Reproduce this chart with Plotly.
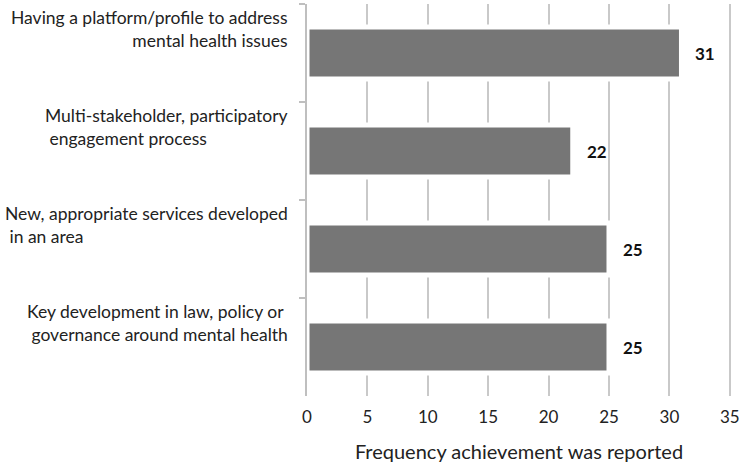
import plotly.graph_objects as go

# ---- data ----
categories = [
    "Having a platform/profile to address mental health issues",
    "Multi-stakeholder, participatory engagement process",
    "New, appropriate services developed in an area",
    "Key development in law, policy or governance around mental health",
]
label_lines = [
    ["Having a platform/profile to address", "mental health issues"],
    ["Multi-stakeholder, participatory", "\u00a0engagement process"],
    ["New, appropriate services developed", "\u00a0in an area"],
    ["Key development in law, policy or", "\u00a0governance around mental health"],
]
label_align = ["right", "left", "left", "left"]
values = [31, 22, 25, 25]
x_ticks = [0, 5, 10, 15, 20, 25, 30, 35]
x_title = "Frequency achievement was reported"

FONT = "Lato"
W, H = 744, 465
L, R, T, B = 307, 8, 4, 69

fig = go.Figure()
fig.add_trace(go.Bar(
    y=categories, x=values, orientation="h",
    width=0.53,
    marker=dict(color="#767676", line=dict(color="white", width=5)),
    hoverinfo="x+y",
))

annotations = []
for cat, lines, al in zip(categories, label_lines, label_align):
    annotations.append(dict(
        x=-17 / (W - L - R), xref="paper", y=cat, yref="y",
        text="<br>".join(lines), showarrow=False,
        xanchor="right", yanchor="middle", align=al, yshift=24,
        font=dict(family=FONT, size=17.5, color="#222222"),
    ))
for cat, v in zip(categories, values):
    annotations.append(dict(
        x=v, xref="x", y=cat, yref="y", text="<b>%d</b>" % v,
        showarrow=False, xanchor="left", yanchor="middle", xshift=12,
        font=dict(family=FONT, size=17, color="#111111"),
    ))

fig.update_layout(
    width=W, height=H,
    margin=dict(l=L, r=R, t=T, b=B, pad=0),
    paper_bgcolor="white", plot_bgcolor="white",
    showlegend=False,
    font=dict(family=FONT, size=17, color="#222222"),
    annotations=annotations,
    xaxis=dict(
        range=[0, 35.1], tickvals=x_ticks, ticktext=[str(t) for t in x_ticks],
        showgrid=True, gridcolor="#c9c9c9", gridwidth=2,
        zeroline=False, showline=False, ticks="",
        ticklabelstandoff=9, ticklabeloverflow="allow",
        tickfont=dict(family=FONT, size=17, color="#222222"),
        title=dict(text=x_title, font=dict(family=FONT, size=20, color="#222222"), standoff=18),
    ),
    yaxis=dict(
        autorange="reversed", showticklabels=False,
        showline=True, linecolor="#bfbfbf", linewidth=2,
        ticks="outside", tickson="boundaries", ticklen=6, tickcolor="#bfbfbf", tickwidth=2,
        showgrid=False, zeroline=False,
    ),
)

fig.write_html("out.html", config={"displayModeBar": False},
               post_script="document.body.style.margin='0px';")
